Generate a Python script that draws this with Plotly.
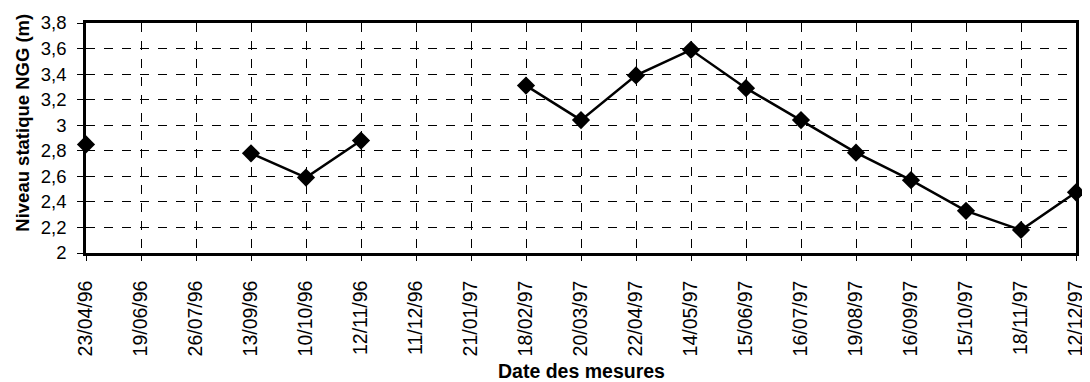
import plotly.graph_objects as go

dates = ["23/04/96", "19/06/96", "26/07/96", "13/09/96", "10/10/96", "12/11/96",
         "11/12/96", "21/01/97", "18/02/97", "20/03/97", "22/04/97", "14/05/97",
         "15/06/97", "16/07/97", "19/08/97", "16/09/97", "15/10/97", "18/11/97",
         "12/12/97"]
niveau = [2.85, None, None, 2.78, 2.59, 2.88, None, None, 3.31, 3.04, 3.39, 3.59,
          3.29, 3.04, 2.785, 2.57, 2.33, 2.18, 2.475]

fig = go.Figure()
fig.add_trace(go.Scatter(
    x=dates, y=niveau, mode="lines+markers", connectgaps=False,
    line=dict(color="black", width=2.5),
    marker=dict(symbol="diamond", size=14, color="black"),
    cliponaxis=False, showlegend=False,
))

# page body has an 8px margin: compensate in figure size and margins
fig.update_layout(
    width=1082, height=374,
    margin=dict(l=78, r=4, t=13, b=129),
    paper_bgcolor="white", plot_bgcolor="white",
    separators=", ",
    font=dict(family="Arial, Liberation Sans, sans-serif", color="black", size=16),
    annotations=[
        dict(text="<b>Niveau statique NGG (m)</b>", xref="paper", yref="paper",
             x=-0.065, y=0.565, xanchor="center", yanchor="middle",
             textangle=-90, showarrow=False, font=dict(size=18.5)),
        dict(text="<b>Date des mesures</b>", xref="paper", yref="paper",
             x=0.5, y=-0.515, xanchor="center", yanchor="middle",
             showarrow=False, font=dict(size=19.5)),
    ],
)
fig.update_xaxes(
    type="category", range=[0, len(dates) - 1],
    tickangle=-90, tickfont=dict(size=19.5), ticklabelstandoff=12,
    showgrid=True, gridcolor="black", griddash="dash", gridwidth=1,
    showline=True, linecolor="black", linewidth=2.5, mirror=True,
    ticks="outside", ticklen=5, tickcolor="black",
)
fig.update_yaxes(
    range=[2, 3.8], dtick=0.2, tick0=2,
    tickfont=dict(size=18.5), ticklabelstandoff=7,
    showgrid=True, gridcolor="black", griddash="dash", gridwidth=1,
    showline=True, linecolor="black", linewidth=2.5, mirror=True,
    ticks="outside", ticklen=6, tickcolor="black",
    zeroline=False,
)

fig.write_html("out.html")
